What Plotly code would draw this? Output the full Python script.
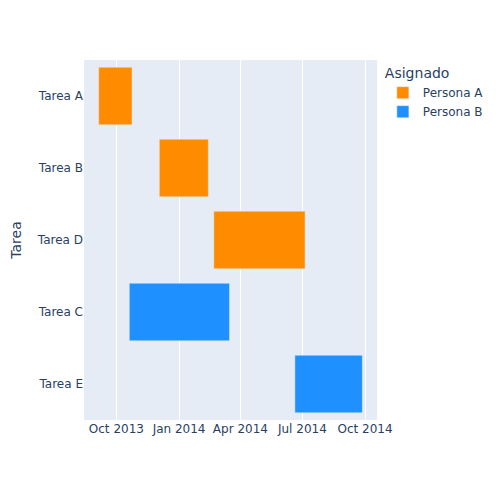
import pandas as pd
import plotly.express as px

# Gantt data
tareas = ["Tarea A", "Tarea B", "Tarea C", "Tarea D", "Tarea E"]
inicio = ["2013-09-05", "2013-12-03", "2013-10-20", "2014-02-21", "2014-06-20"]
fin = ["2013-10-24", "2014-02-13", "2014-03-16", "2014-07-05", "2014-09-27"]
asignado = ["Persona A", "Persona A", "Persona B", "Persona A", "Persona B"]

df = pd.DataFrame(dict(Tarea=tareas, Inicio=inicio, Fin=fin, Asignado=asignado))

fig = px.timeline(
    df, x_start="Inicio", x_end="Fin", y="Tarea", color="Asignado",
    color_discrete_map={"Persona A": "darkorange", "Persona B": "dodgerblue"},
)
fig.update_yaxes(autorange="reversed", automargin="height", title_standoff=26)
fig.update_xaxes(automargin=False)
fig.update_layout(
    width=500, height=500,
    font_family="DejaVu Sans",
    margin=dict(l=76, r=131, t=52, b=88),
)

fig.write_html("out.html")
